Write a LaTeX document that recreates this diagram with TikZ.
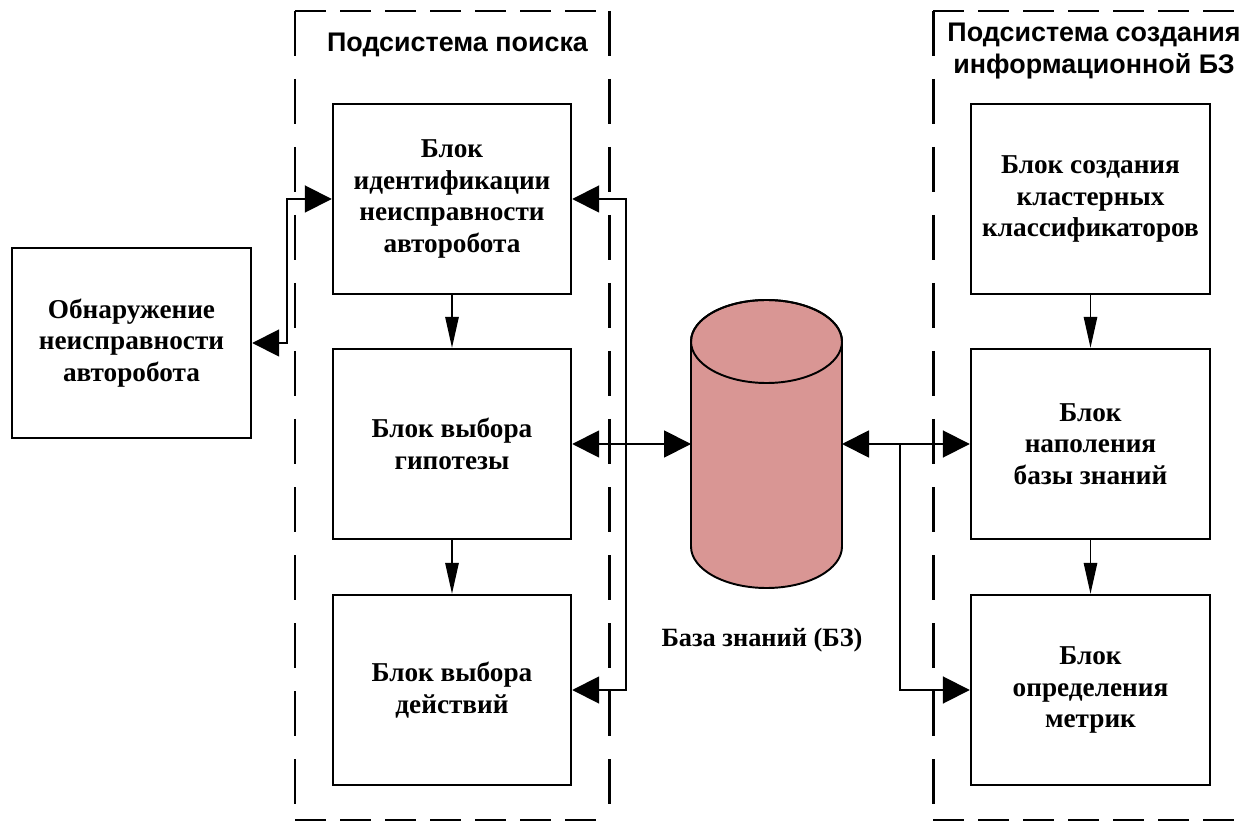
\documentclass[tikz,border=0pt]{standalone}
\usepackage{fontspec}
\setmainfont{Liberation Serif}
\newfontfamily\headfont{Liberation Sans}
\usetikzlibrary{arrows.meta,positioning,calc}
\definecolor{dbfill}{HTML}{D99694}

\begin{document}
\begin{tikzpicture}[
  blk/.style={rectangle, draw, line width=1.4pt, minimum width=4.76cm, minimum height=3.8cm, align=center, inner sep=2pt,
    font=\fontsize{15.5}{17.9}\selectfont\bfseries},
  link/.style={{Triangle[length=5.4mm,width=5.4mm]}-{Triangle[length=5.4mm,width=5.4mm]}, line width=1.1pt},
  arr/.style={-{Triangle[length=5.4mm,width=5.4mm]}, line width=1.1pt},
  flow/.style={-{Triangle[length=6.2mm,width=2.7mm]}, line width=0.8pt},
  frameh/.style={line width=1.7pt, dash pattern=on 6.2mm off 2.8mm},
  framev/.style={line width=1.7pt, dash pattern=on 9mm off 4.6mm},
  head/.style={font=\headfont\fontsize{15.3}{18}\selectfont\bfseries, align=center}
]
  \useasboundingbox (0,0) rectangle (24.82,-16.46);

  % subsystem frames
  \draw[frameh] (5.9,-0.22) -- (12.18,-0.22);
  \draw[frameh] (5.9,-16.4) -- (12.18,-16.4);
  \draw[framev] (5.9,-0.22) -- (5.9,-16.4);
  \draw[framev] (12.18,-0.22) -- (12.18,-16.4);
  \draw[frameh] (18.66,-0.22) -- (24.82,-0.22);
  \draw[frameh] (18.66,-16.4) -- (24.82,-16.4);
  \draw[framev] (18.66,-0.22) -- (18.66,-16.4);

  \node[head] (searchT) at (9.15,-0.9) {Подсистема поиска};
  \node[head] (kbT) at (21.88,-1.02) {Подсистема создания\\информационной БЗ};

  \node[blk, minimum width=4.78cm] (det) at (2.63,-6.86) {Обнаружение\\неисправности\\авторобота};

  \node[blk] (ident) at (9.04,-3.98) {Блок\\идентификации\\неисправности\\авторобота};
  \node[blk] (hyp) at (9.04,-8.88) {Блок выбора\\гипотезы};
  \node[blk] (act) at (9.04,-13.8) {Блок выбора\\действий};

  \node[blk, minimum width=4.78cm] (clus) at (21.81,-3.98) {Блок создания\\кластерных\\классификаторов};
  \node[blk, minimum width=4.78cm] (kbfill) at (21.81,-8.88) {Блок\\наполения\\базы знаний};
  \node[blk, minimum width=4.78cm] (metr) at (21.81,-13.8) {Блок\\определения\\метрик};

  % knowledge base
  \draw[line width=1.1pt, fill=dbfill] (13.82,-6.83) -- (13.82,-10.93)
    arc[start angle=180, end angle=360, x radius=1.51, y radius=0.83] -- (16.84,-6.83)
    arc[start angle=0, end angle=180, x radius=1.51, y radius=0.83] -- cycle;
  \draw[line width=1.1pt] (15.33,-6.83) ellipse[x radius=1.51, y radius=0.83];
  \coordinate (dbW) at (13.82,-8.88);
  \coordinate (dbE) at (16.84,-8.88);
  \node[font=\fontsize{15}{17.6}\selectfont\bfseries] (dbT) at (15.24,-12.8) {База знаний (БЗ)};

  % connectors
  \draw[link] (det.east) -- ++(0.7,0) |- (ident.west);
  \coordinate (busL) at (12.52,-8.88);
  \draw[arr] (busL) |- (ident.east);
  \draw[arr] (busL) |- (act.east);
  \draw[link] (hyp.east) -- (dbW);
  \draw[link] (dbE) -- (kbfill.west);
  \coordinate (busR) at (18.0,-8.88);
  \draw[arr] (busR) |- (metr.west);

  \draw[flow] (ident) -- (hyp);
  \draw[flow] (hyp) -- (act);
  \draw[flow] (clus) -- (kbfill);
  \draw[flow] (kbfill) -- (metr);
\end{tikzpicture}
\end{document}
